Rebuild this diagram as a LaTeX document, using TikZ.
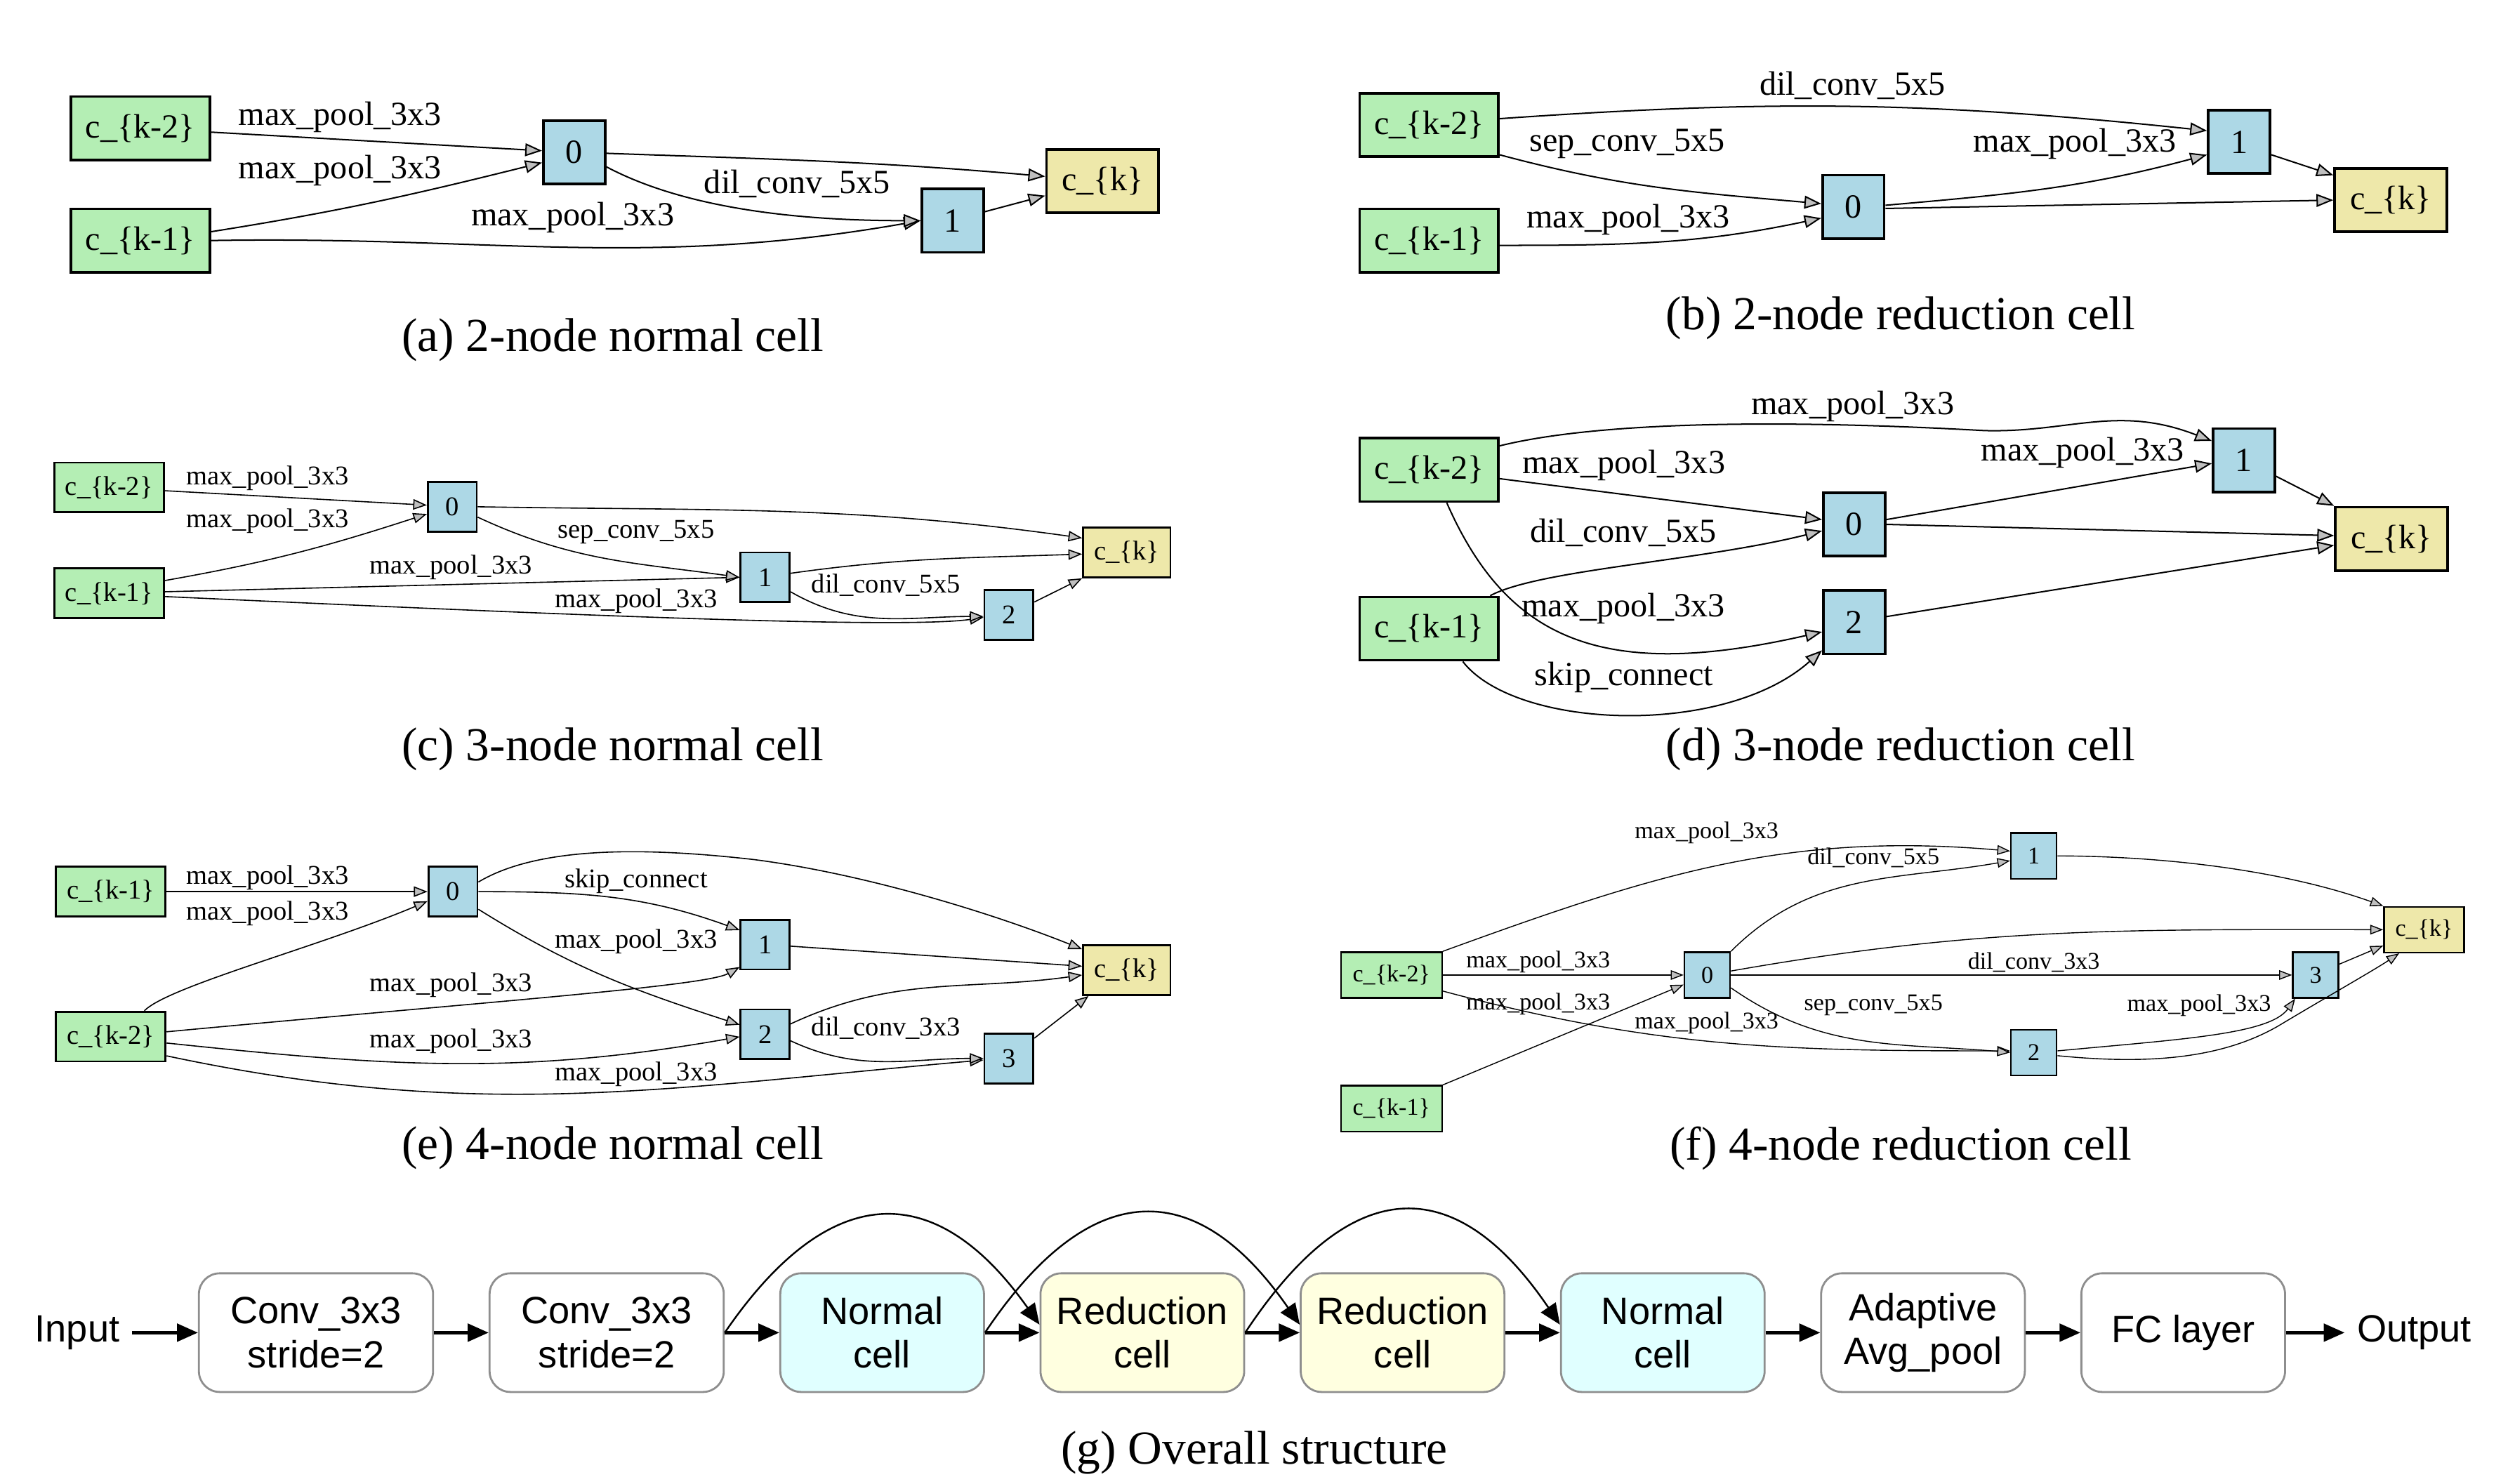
\documentclass[tikz,border=0pt]{standalone}
\usepackage{fontspec}
\setmainfont{Liberation Serif}
\newfontfamily\blockfont{Liberation Sans}
\usetikzlibrary{arrows.meta,positioning,calc}
\definecolor{prevgreen}{HTML}{B4EEB4}
\definecolor{opblue}{HTML}{ADD8E6}
\definecolor{outyellow}{HTML}{EEE8AA}
\definecolor{normfill}{HTML}{E0FFFF}
\definecolor{redfill}{HTML}{FFFFE0}
\definecolor{blockgray}{HTML}{8E8E8E}
\colorlet{arrowgray}{gray!50}

\begin{document}
\begin{tikzpicture}[x=0.2mm,y=-0.2mm,
  capt/.style={font=\fontsize{16.8}{20}\selectfont},
  bigtxt/.style={font=\fontsize{12}{14}\selectfont},
  midtxt/.style={font=\fontsize{9.6}{11}\selectfont},
  smalltxt/.style={font=\fontsize{8.5}{10}\selectfont},
  prevnode/.style={draw,fill=prevgreen,inner sep=0pt},
  opnode/.style={draw,fill=opblue,inner sep=0pt},
  outnode/.style={draw,fill=outyellow,inner sep=0pt},
  bigprev/.style={prevnode,bigtxt,line width=0.9pt,minimum width=17.3mm,minimum height=7.9mm},
  bignum/.style={opnode,bigtxt,line width=0.9pt,minimum width=7.7mm,minimum height=7.9mm},
  bigout/.style={outnode,bigtxt,line width=0.9pt,minimum width=14mm,minimum height=7.9mm},
  midprev/.style={prevnode,midtxt,line width=0.7pt,minimum width=13.7mm,minimum height=6.2mm},
  midnum/.style={opnode,midtxt,line width=0.7pt,minimum width=6.1mm,minimum height=6.2mm},
  midout/.style={outnode,midtxt,line width=0.7pt,minimum width=10.9mm,minimum height=6.2mm},
  smallprev/.style={prevnode,smalltxt,line width=0.6pt,minimum width=12.6mm,minimum height=5.7mm},
  smallnum/.style={opnode,smalltxt,line width=0.6pt,minimum width=5.7mm,minimum height=5.7mm},
  smallout/.style={outnode,smalltxt,line width=0.6pt,minimum width=10mm,minimum height=5.7mm},
  biglbl/.style={bigtxt,inner sep=0pt},
  midlbl/.style={midtxt,inner sep=0pt},
  smalllbl/.style={smalltxt,inner sep=0pt},
  bigedge/.style={line width=0.5pt,-{Triangle[length=2.1mm,width=1.6mm,fill=arrowgray]}},
  midedge/.style={line width=0.4pt,-{Triangle[length=1.7mm,width=1.3mm,fill=arrowgray]}},
  smalledge/.style={line width=0.35pt,-{Triangle[length=1.6mm,width=1.2mm,fill=arrowgray]}},
  block/.style={draw=blockgray,line width=0.7pt,rounded corners=2.6mm,align=center,minimum height=14.8mm,minimum width=25.4mm,font=\blockfont\fontsize{13.5}{15.5}\selectfont},
  endtext/.style={font=\blockfont\fontsize{13.5}{15.5}\selectfont,inner sep=1.5mm},
  flow/.style={line width=1.1pt,-{Triangle[length=2.6mm,width=2.2mm]}},
  skiparc/.style={line width=0.6pt,-{Triangle[length=2.6mm,width=2.2mm]}}
]
  \useasboundingbox (0,0) rectangle (1568,925);

  % (a)
  \node (ak2) [bigprev] at (87.5,80) {c\_\{k-2\}};
  \node (ak1) [bigprev] at (87.5,150) {c\_\{k-1\}};
  \node (a0) [bignum] at (358,95) {0};
  \node (a1) [bignum] at (594,137.6) {1};
  \node (ak) [bigout] at (687.4,113) {c\_\{k\}};
  \draw[bigedge] ($(ak2.east)+(0,2.4)$) -- ($(a0.west)+(0,-1)$);
  \draw[bigedge] ($(ak1.east)+(0,-5.5)$) to[out=9,in=194] ($(a0.west)+(0,6.4)$);
  \draw[bigedge] (ak1.east) to[out=1,in=190] (a1.west);
  \draw[bigedge] ($(a0.east)+(0,9)$) to[out=-28,in=180,looseness=0.8] (a1.west);
  \draw[bigedge] ($(a0.east)+(0,0.6)$) to[out=-2,in=175] ($(ak.west)+(0,-3)$);
  \draw[bigedge] ($(a1.east)+(0,-5.6)$) -- ($(ak.west)+(0,9)$);
  \node (la1) [biglbl] at (212,73) {max\_pool\_3x3};
  \node (la2) [biglbl] at (212,106.5) {max\_pool\_3x3};
  \node (la3) [biglbl] at (357,135.7) {max\_pool\_3x3};
  \node (la4) [biglbl] at (497,114.5) {dil\_conv\_5x5};
  \node (capa) [capt] at (382,212) {(a) 2-node normal cell};

  % (b)
  \node (bk2) [bigprev] at (891,78) {c\_\{k-2\}};
  \node (bk1) [bigprev] at (891,150) {c\_\{k-1\}};
  \node (b0) [bignum] at (1155.5,129) {0};
  \node (b1) [bignum] at (1396,88.5) {1};
  \node (bk) [bigout] at (1490.5,124.8) {c\_\{k\}};
  \draw[bigedge] ($(bk2.east)+(0,-4)$) to[out=4,in=174] ($(b1.west)+(0,-7)$);
  \draw[bigedge] ($(bk2.south east)+(0,-2)$) to[out=-15,in=175] ($(b0.west)+(0,-2)$);
  \draw[bigedge] ($(bk1.east)+(0,3)$) to[out=0,in=192] ($(b0.west)+(0,7)$);
  \draw[bigedge] ($(b0.east)+(0,-1)$) to[out=5,in=195] ($(b1.west)+(0,8)$);
  \draw[bigedge] ($(b0.east)+(0,1)$) -- (bk.west);
  \draw[bigedge] ($(b1.east)+(0,8)$) -- ($(bk.north west)+(0,5)$);
  \node (lb1) [biglbl] at (1155,53.3) {dil\_conv\_5x5};
  \node (lb2) [biglbl] at (1014.5,89.7) {sep\_conv\_5x5};
  \node (lb3) [biglbl] at (1015,137) {max\_pool\_3x3};
  \node (lb4) [biglbl] at (1293.6,89.7) {max\_pool\_3x3};
  \node (capb) [capt] at (1185,198.5) {(b) 2-node reduction cell};

  % (c)
  \node (ck2) [midprev] at (68,304) {c\_\{k-2\}};
  \node (ck1) [midprev] at (68,370) {c\_\{k-1\}};
  \node (c0) [midnum] at (282,316) {0};
  \node (c1) [midnum] at (477,360) {1};
  \node (c2) [midnum] at (629,383.4) {2};
  \node (ck) [midout] at (702.5,344.5) {c\_\{k\}};
  \draw[midedge] ($(ck2.east)+(0,2)$) -- ($(c0.west)+(0,-1)$);
  \draw[midedge] ($(ck1.east)+(0,-8)$) to[out=10,in=198] ($(c0.west)+(0,4.5)$);
  \draw[midedge] ($(ck1.east)+(0,-1)$) -- (c1.west);
  \draw[midedge] ($(ck1.east)+(0,2)$) .. controls (300,381) and (560,393) .. ($(c2.west)+(0,1.6)$);
  \draw[midedge] ($(c0.east)+(0,6.5)$) to[out=-25,in=172] (c1.west);
  \draw[midedge] ($(c1.east)+(0,9)$) to[out=-30,in=180] ($(c2.west)+(0,1)$);
  \draw[midedge] (c0.east) to[out=-1,in=172] ($(ck.west)+(0,-9)$);
  \draw[midedge] ($(c1.east)+(0,-2.5)$) to[out=8,in=182] ($(ck.west)+(0,1)$);
  \draw[midedge] ($(c2.east)+(0,-8)$) -- (ck.south west);
  \node (lc1) [midlbl] at (166.8,298.4) {max\_pool\_3x3};
  \node (lc2) [midlbl] at (166.8,324.7) {max\_pool\_3x3};
  \node (lc3) [midlbl] at (396.6,332) {sep\_conv\_5x5};
  \node (lc4) [midlbl] at (281.2,353.8) {max\_pool\_3x3};
  \node (lc5) [midlbl] at (552.3,364.8) {dil\_conv\_5x5};
  \node (lc6) [midlbl] at (396.6,375) {max\_pool\_3x3};
  \node (capc) [capt] at (382,467) {(c) 3-node normal cell};

  % (d)
  \node (dk2) [bigprev] at (891,293) {c\_\{k-2\}};
  \node (dk1) [bigprev] at (891,392) {c\_\{k-1\}};
  \node (d0) [bignum] at (1156,327) {0};
  \node (d1) [bignum] at (1399,287) {1};
  \node (d2) [bignum] at (1156,388) {2};
  \node (dk) [bigout] at (1491,336) {c\_\{k\}};
  \draw[bigedge] ($(dk2.east)+(0,-15)$) .. controls (1000,262) and (1120,262) .. (1237,268.5)
    .. controls (1290,270) and (1320,252) .. ($(d1.west)+(0,-12)$);
  \draw[bigedge] ($(dk2.east)+(0,5.5)$) -- ($(d0.west)+(0,-3)$);
  \draw[bigedge] ($(dk1.north east)+(-6,0)$) .. controls (960,355) and (1060,350) .. ($(d0.west)+(0,4)$);
  \draw[bigedge] ($(dk2.south)+(11,0)$) .. controls (940,400) and (1000,425) .. ($(d2.west)+(0,6)$);
  \draw[bigedge] ($(dk1.south)+(21,0)$) .. controls (945,455) and (1075,460) .. ($(d2.south west)+(0,-3)$);
  \draw[bigedge] ($(d0.east)+(0,-3)$) -- ($(d1.west)+(0,2)$);
  \draw[bigedge] (d0.east) -- ($(dk.west)+(0,-2)$);
  \draw[bigedge] ($(d1.east)+(0,10)$) -- (dk.north west);
  \draw[bigedge] ($(d2.east)+(0,-3.5)$) -- ($(dk.west)+(0,4)$);
  \node (ld1) [biglbl] at (1155,253.2) {max\_pool\_3x3};
  \node (ld2) [biglbl] at (1012.3,290.4) {max\_pool\_3x3};
  \node (ld3) [biglbl] at (1012,332) {dil\_conv\_5x5};
  \node (ld4) [biglbl] at (1012,379.4) {max\_pool\_3x3};
  \node (ld5) [biglbl] at (1012.5,422.4) {skip\_connect};
  \node (ld6) [biglbl] at (1298.4,282.4) {max\_pool\_3x3};
  \node (capd) [capt] at (1185,467) {(d) 3-node reduction cell};

  % (e)
  \node (ek1) [midprev] at (69,556) {c\_\{k-1\}};
  \node (ek2) [midprev] at (69,646.4) {c\_\{k-2\}};
  \node (e0) [midnum] at (282.4,556) {0};
  \node (e1) [midnum] at (477,589) {1};
  \node (e2) [midnum] at (477,645) {2};
  \node (e3) [midnum] at (629,660) {3};
  \node (ek) [midout] at (702.5,605) {c\_\{k\}};
  \draw[midedge] (ek1.east) -- (e0.west);
  \draw[midedge] ($(ek2.north)+(21,0)$) .. controls (105,615) and (200,590) .. ($(e0.west)+(0,6)$);
  \draw[midedge] (e0.east) to[out=0,in=160] ($(e1.west)+(0,-9)$);
  \draw[midedge] ($(e0.east)+(0,11)$) to[out=-32,in=162] ($(e2.west)+(0,-6)$);
  \draw[midedge] ($(ek2.east)+(0,-3)$) .. controls (300,625) and (440,615) .. ($(e1.west)+(0,14)$);
  \draw[midedge] ($(ek2.east)+(0,4)$) to[out=-6,in=190] ($(e2.west)+(0,1.5)$);
  \draw[midedge] ($(ek2.east)+(0,12)$) to[out=-12,in=185] ($(e3.west)+(0,1)$);
  \draw[midedge] ($(e2.east)+(0,4)$) to[out=-25,in=180] (e3.west);
  \draw[midedge] ($(e0.east)+(0,-6)$) .. controls (335,528) and (400,528) .. (470,536)
    .. controls (540,545) and (620,570) .. ($(ek.north west)+(0,3)$);
  \draw[midedge] ($(e1.east)+(0,1)$) -- ($(ek.west)+(0,-2.5)$);
  \draw[midedge] ($(e2.east)+(0,-6.5)$) to[out=25,in=188] ($(ek.west)+(0,3)$);
  \draw[midedge] ($(e3.north east)+(0,3.5)$) -- ($(ek.south west)+(4,0)$);
  \node (le1) [midlbl] at (166.8,547.2) {max\_pool\_3x3};
  \node (le2) [midlbl] at (166.8,569.8) {max\_pool\_3x3};
  \node (le3) [midlbl] at (396.6,549.4) {skip\_connect};
  \node (le4) [midlbl] at (396.6,587.3) {max\_pool\_3x3};
  \node (le5) [midlbl] at (281.2,614.3) {max\_pool\_3x3};
  \node (le6) [midlbl] at (281.2,649.3) {max\_pool\_3x3};
  \node (le7) [midlbl] at (552.3,641.3) {dil\_conv\_3x3};
  \node (le8) [midlbl] at (396.6,669.8) {max\_pool\_3x3};
  \node (cape) [capt] at (382,716) {(e) 4-node normal cell};

  % (f)
  \node (fk2) [smallprev] at (867.5,608) {c\_\{k-2\}};
  \node (fk1) [smallprev] at (867.5,691.3) {c\_\{k-1\}};
  \node (f0) [smallnum] at (1064.4,608) {0};
  \node (f1) [smallnum] at (1268,533.7) {1};
  \node (f2) [smallnum] at (1268,656.3) {2};
  \node (f3) [smallnum] at (1443.7,608) {3};
  \node (fk) [smallout] at (1511.3,579.7) {c\_\{k\}};
  \draw[smalledge] (fk2.east) -- (f0.west);
  \draw[smalledge] (fk2.north east) to[out=20,in=175] ($(f1.west)+(0,-3)$);
  \draw[smalledge] (f0.north east) to[out=45,in=190] ($(f1.west)+(0,3)$);
  \draw[smalledge] ($(fk2.east)+(0,10)$) to[out=-15,in=180] ($(f2.west)+(0,-1)$);
  \draw[smalledge] (fk1.north east) -- ($(f0.west)+(0,6)$);
  \draw[smalledge] (f0.east) -- (f3.west);
  \draw[smalledge] ($(f0.east)+(0,8)$) to[out=-35,in=175] (f2.west);
  \draw[smalledge] ($(f0.east)+(0,-2.5)$) to[out=10,in=180] (fk.west);
  \draw[smalledge] (f1.east) .. controls (1360,534) and (1430,545) .. (fk.north west);
  \draw[smalledge] ($(f2.east)+(0,-1)$) .. controls (1360,648) and (1415,645) .. ($(f3.south west)+(2,0)$);
  \draw[smalledge] ($(f2.east)+(0,2)$) .. controls (1340,664) and (1385,660) .. (1420,640)
    .. controls (1450,622) and (1480,605) .. ($(fk.south west)+(10,0)$);
  \draw[smalledge] ($(f3.north east)+(0,8)$) -- ($(fk.west)+(0,10)$);
  \node (lf1) [smalllbl] at (1064,519.5) {max\_pool\_3x3};
  \node (lf2) [smalllbl] at (1168,535) {dil\_conv\_5x5};
  \node (lf3) [smalllbl] at (959,600) {max\_pool\_3x3};
  \node (lf4) [smalllbl] at (1268,600) {dil\_conv\_3x3};
  \node (lf5) [smalllbl] at (959,626) {max\_pool\_3x3};
  \node (lf6) [smalllbl] at (1064,638) {max\_pool\_3x3};
  \node (lf7) [smalllbl] at (1168,627) {sep\_conv\_5x5};
  \node (lf8) [smalllbl] at (1371,627) {max\_pool\_3x3};
  \node (capf) [capt] at (1185,716) {(f) 4-node reduction cell};

  % (g)
  \node (conv1) [block,minimum width=29.2mm] at (197,831) {Conv\_3x3\\stride=2};
  \node (conv2) [block,minimum width=29.2mm,right=6.8mm of conv1] {Conv\_3x3\\stride=2};
  \node (norm1) [block,fill=normfill,right=6.8mm of conv2] {Normal\\cell};
  \node (red1) [block,fill=redfill,right=6.8mm of norm1] {Reduction\\cell};
  \node (red2) [block,fill=redfill,right=6.8mm of red1] {Reduction\\cell};
  \node (norm2) [block,fill=normfill,right=6.8mm of red2] {Normal\\cell};
  \node (pool) [block,right=6.8mm of norm2] {Adaptive\\Avg\_pool};
  \node (fc) [block,right=6.8mm of pool] {FC layer};
  \node (inp) [endtext,left=8.2mm of conv1] {Input};
  \node (outp) [endtext,right=7.3mm of fc] {Output};
  \draw[flow] (inp) -- (conv1);
  \draw[flow] (conv1) -- (conv2);
  \draw[flow] (conv2) -- (norm1);
  \draw[flow] (norm1) -- (red1);
  \draw[flow] (red1) -- (red2);
  \draw[flow] (red2) -- (norm2);
  \draw[flow] (norm2) -- (pool);
  \draw[flow] (pool) -- (fc);
  \draw[flow] (fc) -- (outp);
  \draw[skiparc] (conv2.east) .. controls +(65,-95) and +(-65,-92) .. ($(red1.west)+(0,-5)$);
  \draw[skiparc] (norm1.east) .. controls +(65,-97) and +(-65,-94) .. ($(red2.west)+(0,-5)$);
  \draw[skiparc] (red1.east) .. controls +(66,-100) and +(-65,-96) .. ($(norm2.west)+(0,-5)$);
  \node (capg) [capt] at (782,906) {(g) Overall structure};
\end{tikzpicture}
\end{document}
